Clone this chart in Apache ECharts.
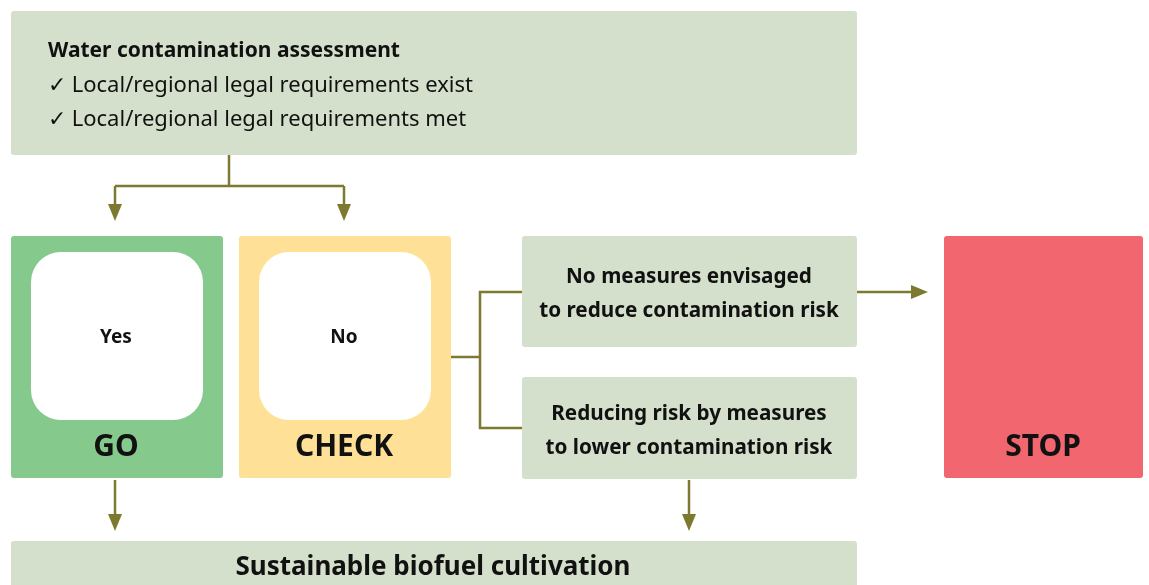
<!DOCTYPE html>
<html>
<head>
<meta charset="utf-8">
<script src="https://cdn.jsdelivr.net/npm/echarts@6/dist/echarts.min.js"></script>
<style>
  html, body { margin: 0; padding: 0; background: #fff; }
  #chart { width: 1149px; height: 585px; }
</style>
</head>
<body>
<div id="chart"></div>
<script>
// texts of the flowchart
const assessmentTitle = 'Water contamination assessment'
const assessmentChecks = ['Local/regional legal requirements exist', 'Local/regional legal requirements met']
const answers = ['Yes', 'No']
const verdicts = ['GO', 'CHECK', 'STOP']
const measureTexts = [
  'No measures envisaged\nto reduce contamination risk',
  'Reducing risk by measures\nto lower contamination risk'
]
const resultText = 'Sustainable biofuel cultivation'

const FONT = '"Noto Sans", "Open Sans", sans-serif'
const LINE = '#7d7a30'
const PALE = '#d4e0cb'
const GREEN = '#86c98c'
const YELLOW = '#fee196'
const RED = '#f26670'

const chart = echarts.init(document.getElementById('chart'))

function box(x, y, w, h, fill, r) {
  return { type: 'rect', shape: { x, y, width: w, height: h, r: r || 3 }, style: { fill } }
}

function text(x, y, t, size, weight, align, lh) {
  return {
    type: 'text', x, y,
    style: {
      text: t, font: `${weight} ${size}px ${FONT}`, fill: '#111',
      align: align || 'center', verticalAlign: 'middle', lineHeight: lh || size * 1.3
    }
  }
}

function line(points) {
  return { type: 'polyline', shape: { points }, style: { stroke: LINE, lineWidth: 2.5, fill: null } }
}

// arrow ending at (x2,y2), head pointing in the line's direction
function arrow(x1, y1, x2, y2) {
  const dx = x2 - x1, dy = y2 - y1
  const len = Math.hypot(dx, dy)
  const ux = dx / len, uy = dy / len
  const hl = 17, hw = 7
  const bx = x2 - ux * hl, by = y2 - uy * hl
  return [
    line([[x1, y1], [bx, by]]),
    {
      type: 'polygon',
      shape: { points: [[x2, y2], [bx - uy * hw, by + ux * hw], [bx + uy * hw, by - ux * hw]] },
      style: { fill: LINE }
    }
  ]
}

const els = []

// top assessment box
els.push(box(11, 11, 846, 144, PALE))
els.push(text(48, 51, assessmentTitle, 21, 'bold', 'left'))
assessmentChecks.forEach((c, i) => {
  els.push(text(48, 86 + i * 34, '\u2713 ' + c, 22, 'normal', 'left'))
})

// split into GO / CHECK
els.push(line([[229, 155], [229, 186]]))
els.push(line([[115, 186], [344, 186]]))
els.push(...arrow(115, 186, 115, 221))
els.push(...arrow(344, 186, 344, 221))

// GO and CHECK boxes
const verdictX = [11, 239]
const verdictFill = [GREEN, YELLOW]
answers.forEach((a, i) => {
  const x = verdictX[i]
  els.push(box(x, 236, 212, 242, verdictFill[i]))
  els.push(box(x + 20, 252, 172, 168, '#fff', 30))
  els.push(text(x + 105, 338, a, 19, 'bold'))
  els.push(text(x + 105, 447, verdicts[i], 30, 'bold'))
})

// STOP box
els.push(box(944, 236, 199, 242, RED))
els.push(text(1043, 447, verdicts[2], 30, 'bold'))

// CHECK branches
els.push(line([[451, 357], [480, 357]]))
els.push(line([[522, 292], [480, 292], [480, 428], [522, 428]]))

const measureY = [[236, 111], [377, 102]]
measureTexts.forEach((t, i) => {
  const [y, h] = measureY[i]
  els.push(box(522, y, 335, h, PALE))
  els.push(text(689, y + h / 2 + 3, t, 20.7, 'bold', 'center', 34))
})
els.push(...arrow(857, 292, 928, 292))

// to result
els.push(...arrow(115, 480, 115, 531))
els.push(...arrow(689, 480, 689, 531))
els.push(box(11, 541, 846, 60, PALE))
els.push(text(433, 568, resultText, 26, 'bold'))

chart.setOption({
  animation: false,
  graphic: { elements: els }
})
</script>
</body>
</html>
